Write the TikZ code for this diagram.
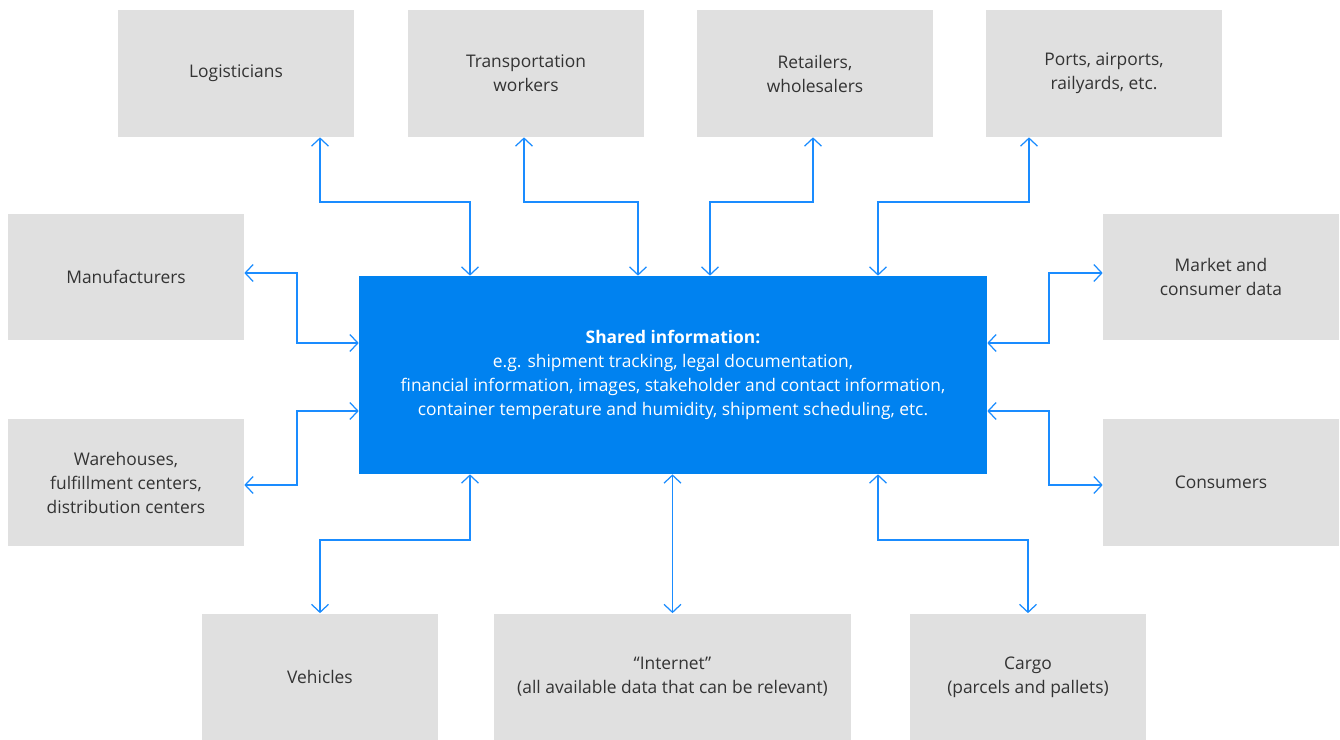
\documentclass[tikz,border=0pt]{standalone}
\usepackage{fontspec}
\setmainfont{Open Sans}
\usepackage{xcolor}
\usepackage{tikz}
\usetikzlibrary{arrows.meta, calc}

\definecolor{infoblue}{HTML}{0082F0}
\definecolor{linkblue}{HTML}{1A8CFF}
\definecolor{boxgray}{HTML}{E0E0E0}
\definecolor{textgray}{HTML}{333333}

\begin{document}
\begin{tikzpicture}
  [
    x=0.02cm, y=-0.02cm,
    Party/.style={rectangle, fill=boxgray, text=textgray, minimum width=4.72cm, minimum height=2.54cm, inner sep=0pt, align=center, font=\fontsize{9.9}{13.65}\selectfont},
    Wide/.style={Party, minimum width=7.14cm},
    Info/.style={rectangle, fill=infoblue, text=white, minimum width=12.56cm, minimum height=3.96cm, inner sep=0pt, align=center, font=\fontsize{9.9}{13.65}\selectfont},
    Link/.style={{Straight Barb[length=1.6mm,width=3.4mm]}-{Straight Barb[length=1.6mm,width=3.4mm]}, draw=linkblue, line width=0.7pt}
  ]
  \useasboundingbox (0,0) rectangle (1340,740);

  % Nodes
  \node[Info] (info) at (673, 375) {\textbf{Shared information:}\\e.g. shipment tracking, legal documentation,\\financial information, images, stakeholder and contact information,\\container temperature and humidity, shipment scheduling, etc.};

  \node[Party] (logi) at (236, 73.5) {Logisticians};
  \node[Party] (trans) at (526, 73.5) {Transportation\\workers};
  \node[Party] (retail) at (815, 73.5) {Retailers,\\wholesalers};
  \node[Party] (ports) at (1104, 73.5) {Ports, airports,\\railyards, etc.};

  \node[Party] (manu) at (126, 277) {Manufacturers};
  \node[Party] (ware) at (126, 482.5) {Warehouses,\\fulfillment centers,\\distribution centers};
  \node[Party] (market) at (1221, 277) {Market and\\consumer data};
  \node[Party] (cons) at (1221, 482.5) {Consumers};

  \node[Party] (veh) at (320, 677) {Vehicles};
  \node[Wide] (inet) at (672.5, 677) {``Internet''\\(all available data that can be relevant)};
  \node[Party] (cargo) at (1028, 677) {Cargo\\(parcels and pallets)};

  % Lines
  \path [Link] (320,0 |- logi.south) |- (470,202) -- (470,0 |- info.north);
  \path [Link] (524,0 |- trans.south) |- (638,202) -- (638,0 |- info.north);
  \path [Link] (813,0 |- retail.south) |- (710,202) -- (710,0 |- info.north);
  \path [Link] (1029,0 |- ports.south) |- (878,202) -- (878,0 |- info.north);

  \path [Link] (manu.east |- 0,273) -| (297,343) -- (info.west |- 0,343);
  \path [Link] (ware.east |- 0,485) -| (297,411) -- (info.west |- 0,411);
  \path [Link] (market.west |- 0,273) -| (1049,343) -- (info.east |- 0,343);
  \path [Link] (cons.west |- 0,485) -| (1049,411) -- (info.east |- 0,411);

  \path [Link] (veh.north) |- (470,540) -- (470,0 |- info.south);
  \path [Link] (inet.north) -- (inet.north |- info.south);
  \path [Link] (cargo.north) |- (878,540) -- (878,0 |- info.south);

\end{tikzpicture}
\end{document}
